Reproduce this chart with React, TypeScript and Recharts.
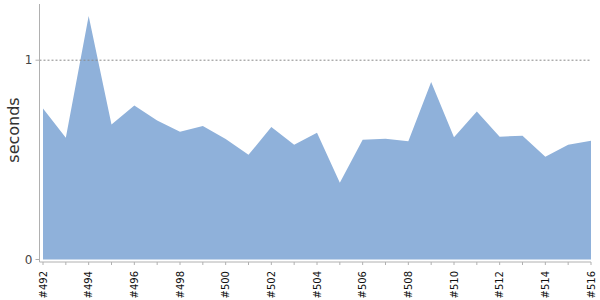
import { AreaChart, Area, XAxis, YAxis, ReferenceLine } from 'recharts'

const builds = [
  '#492', '#493', '#494', '#495', '#496', '#497', '#498', '#499', '#500',
  '#501', '#502', '#503', '#504', '#505', '#506', '#507', '#508', '#509',
  '#510', '#511', '#512', '#513', '#514', '#515', '#516',
]

const seconds = [
  0.758, 0.611, 1.222, 0.677, 0.773, 0.697, 0.641, 0.67, 0.604,
  0.525, 0.665, 0.576, 0.636, 0.385, 0.601, 0.606, 0.593, 0.891,
  0.613, 0.742, 0.616, 0.621, 0.515, 0.576, 0.596,
]

const yTicks = [0, 1]

const data = builds.map((name, i) => ({ name, value: seconds[i] }))

const BuildTick = (props: any) => {
  const { x, y, payload, index } = props
  if (index % 2 !== 0) return <g />
  return (
    <text
      x={x + 3.5}
      y={y}
      transform={`rotate(-90, ${x + 3.5}, ${y})`}
      textAnchor="end"
      fontSize={10}
      fill="#111"
      fontFamily="DejaVu Sans"
    >
      {payload.value}
    </text>
  )
}

const App = () => {
  return (
    <div style={{ position: 'absolute', left: 0, top: 0 }}>
      <AreaChart
        width={600}
        height={300}
        data={data}
        margin={{ top: 4, right: 9, left: 0, bottom: 0 }}
      >
        <XAxis
          dataKey="name"
          interval={0}
          height={38}
          padding={{ left: 3.5, right: 0 }}
          tick={BuildTick}
          tickSize={3}
          tickMargin={6}
          stroke="#b0b0b0"
          axisLine={{ stroke: '#b0b0b0' }}
          tickLine={{ stroke: '#b0b0b0' }}
        />
        <YAxis
          width={39.5}
          domain={[-0.0126, 1.282]}
          ticks={yTicks}
          allowDataOverflow
          tickSize={4}
          tickMargin={3}
          stroke="#b0b0b0"
          tick={{ fill: '#444', fontSize: 12, fontFamily: 'DejaVu Sans' }}
          label={{
            content: () => (
              <text
                x={19}
                y={130}
                transform="rotate(-90, 19, 130)"
                textAnchor="middle"
                fontSize={16}
                fill="#333"
                fontFamily="DejaVu Sans"
              >
                seconds
              </text>
            ),
          }}
        />
        <ReferenceLine y={1} stroke="#888" strokeDasharray="2 2" />
        <Area
          type="linear"
          dataKey="value"
          stroke="none"
          fill="#8fb1da"
          fillOpacity={1}
          isAnimationActive={false}
        />
      </AreaChart>
    </div>
  )
}

export default App
